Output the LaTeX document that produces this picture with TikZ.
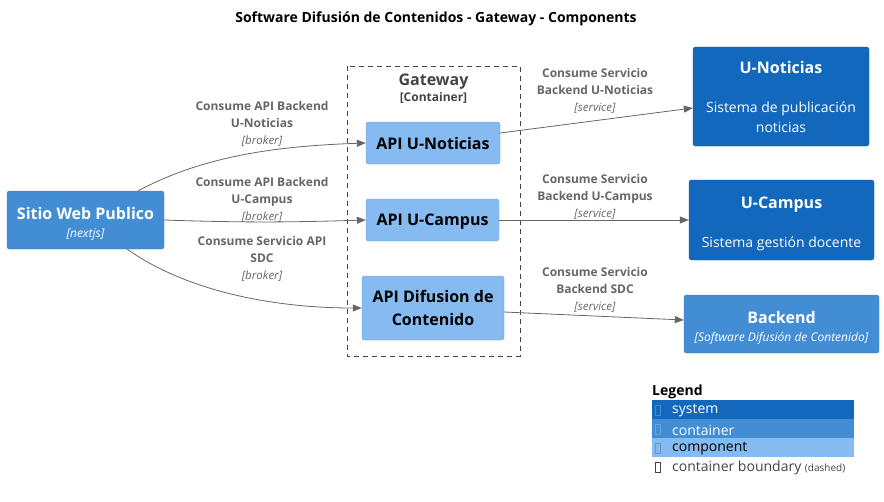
\documentclass[tikz,border=0pt]{standalone}
\usepackage{fontspec}
\setmainfont{Open Sans}
\usetikzlibrary{arrows.meta}
\definecolor{sysblue}{HTML}{1168BD}
\definecolor{contblue}{HTML}{438DD5}
\definecolor{compblue}{HTML}{85BBF0}
\definecolor{relgray}{HTML}{666666}
\definecolor{bndgray}{HTML}{444444}
\newcommand{\techfont}{\fontsize{11.5}{17}\selectfont\itshape}
\begin{document}
\begin{tikzpicture}[x=1pt,y=1pt,
  system/.style={fill=sysblue,draw=sysblue!85!black,rounded corners=2.5pt,text=white,align=center,inner sep=0pt},
  container/.style={fill=contblue,draw=contblue!85!black,rounded corners=2.5pt,text=white,align=center,inner sep=0pt},
  component/.style={fill=compblue,draw=compblue!85!black,rounded corners=2.5pt,text=black,align=center,inner sep=0pt,font=\fontsize{16}{23}\selectfont\bfseries},
  boxtext/.style={text=white,align=center,inner sep=0pt,yshift=-4pt},
  rel/.style={draw=relgray,line width=0.8pt,-{Triangle[length=9pt,width=7pt]}},
  rellabel/.style={text=relgray,align=center,inner sep=0pt,font=\fontsize{12}{17}\selectfont},
  legendrow/.style={anchor=north west,minimum width=202pt,minimum height=19pt,inner sep=0pt},
  tofu/.style={line width=0.5pt}]
\useasboundingbox (0,0) rectangle (884,-501);

% title
\node (title) at (436,-19) {\fontsize{14}{16}\selectfont\bfseries Software Difusión de Contenidos - Gateway - Components};

% container boundary
\draw[bndgray,dashed,line width=0.8pt,dash pattern=on 5pt off 4pt] (347,-66) rectangle (520,-356);
\node[text=bndgray,align=center,inner sep=0pt,font=\fontsize{16}{18}\selectfont] (gwlabel) at (433.5,-89)
  {\bfseries Gateway\\[-2pt]{\fontsize{12}{14}\selectfont\bfseries [Container]}};

% nodes
\node[container,minimum width=157pt,minimum height=58pt,
  label={[boxtext,font=\fontsize{16}{18}\selectfont]center:{\bfseries Sitio Web Publico\\{\fontsize{12}{14}\selectfont\itshape [nextjs]}}}]
  (sitio) at (85.5,-220) {};
\node[component,minimum width=134pt,minimum height=42pt] (apinot) at (433,-143) {API U-Noticias};
\node[component,minimum width=133pt,minimum height=42pt,text depth=0pt] (apicam) at (432.5,-220) {API U-Campus};
\node[component,minimum width=142pt,minimum height=64pt] (apidif) at (433,-308) {API Difusion de\\Contenido};
\node[system,minimum width=176pt,minimum height=99pt,font=\fontsize{14}{20}\selectfont] (unot) at (781,-96.5)
  {{\fontsize{16}{19}\selectfont\bfseries U-Noticias}\\[19pt]Sistema de publicación\\noticias};
\node[system,minimum width=185pt,minimum height=80pt,
  label={[boxtext,font=\fontsize{14}{20}\selectfont]center:{{\fontsize{16}{19}\selectfont\bfseries U-Campus}\\[19pt]Sistema gestión docente}}]
  (ucam) at (781.5,-220) {};
\node[container,minimum width=195pt,minimum height=58pt,
  label={[boxtext,font=\fontsize{16}{18}\selectfont]center:{\bfseries Backend\\{\fontsize{12}{14}\selectfont\itshape [Software Difusión de Contenido]}}}]
  (backend) at (781.5,-324) {};

% relations
\draw[rel] ([xshift=-26pt]sitio.north east) .. controls (205,-155) and (280,-146) .. (apinot.west);
\draw[rel] (sitio.east) .. controls (250,-223) and (300,-222) .. (apicam.west);
\draw[rel] ([xshift=-37pt]sitio.south east) .. controls (185,-290) and (270,-308) .. (apidif.west);
\draw[rel] ([yshift=10pt]apinot.east) -- ([yshift=-11.5pt]unot.west);
\draw[rel] (apicam.east) -- (ucam.west);
\draw[rel] ([yshift=-4pt]apidif.east) -- ([yshift=4pt]backend.west);

% relation labels
\node[rellabel] (l1) at (262,-124) {\bfseries Consume API Backend\\\bfseries U-Noticias\\{\techfont [broker]}};
\node[rellabel] (l2) at (262,-200) {\bfseries Consume API Backend\\\bfseries U-Campus\\{\techfont [broker]}};
\node[rellabel] (l3) at (262,-259) {\bfseries Consume Servicio API\\\bfseries SDC\\{\techfont [broker]}};
\node[rellabel] (l4) at (595,-91) {\bfseries Consume Servicio\\\bfseries Backend U-Noticias\\{\techfont [service]}};
\node[rellabel] (l5) at (595,-197) {\bfseries Consume Servicio\\\bfseries Backend U-Campus\\{\techfont [service]}};
\node[rellabel] (l6) at (595,-290) {\bfseries Consume Servicio\\\bfseries Backend SDC\\{\techfont [service]}};

% legend
\node[anchor=west,inner sep=0pt] (legend) at (652,-392) {\fontsize{14}{16}\selectfont\bfseries Legend};
\node[legendrow,fill=sysblue] (lgsys) at (652,-400) {};
\node[legendrow,fill=contblue] (lgcont) at (652,-419) {};
\node[legendrow,fill=compblue] (lgcomp) at (652,-438) {};
\node[legendrow] (lgbnd) at (652,-457) {};
\draw[tofu,draw=sysblue!80!white] (655,-405) rectangle (660,-415);
\draw[tofu,draw=contblue!80!white] (655,-424) rectangle (660,-434);
\draw[tofu,draw=compblue!80!black] (655,-443) rectangle (660,-453);
\draw[tofu,draw=bndgray] (655,-462) rectangle (660,-472);
\node[anchor=west,inner sep=0pt,text=white] at (672,-411) {\fontsize{14}{16}\selectfont system};
\node[anchor=west,inner sep=0pt,text=white] at (672,-430) {\fontsize{14}{16}\selectfont container};
\node[anchor=west,inner sep=0pt,text=black] at (672,-449) {\fontsize{14}{16}\selectfont component};
\node[anchor=west,inner sep=0pt,text=bndgray] at (672,-468) {\fontsize{14}{16}\selectfont container boundary {\fontsize{10}{12}\selectfont (dashed)}};
\end{tikzpicture}
\end{document}
